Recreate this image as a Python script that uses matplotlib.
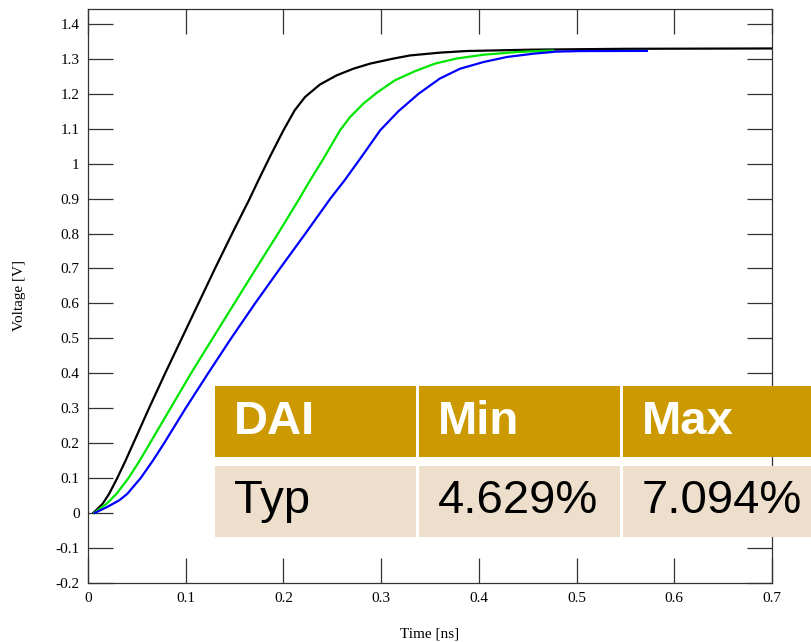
import matplotlib
matplotlib.use("Agg")
import matplotlib.pyplot as plt
from matplotlib.patches import Rectangle

# rise curves (time in ns, voltage in V)
black_t = [0.0055, 0.0150, 0.0215, 0.0300, 0.0385, 0.0465, 0.0545, 0.0625, 0.0790,
           0.0960, 0.1130, 0.1300, 0.1475, 0.1655, 0.1743, 0.1860, 0.2000, 0.2115,
           0.2221, 0.2375, 0.2545, 0.2716, 0.2886, 0.3125, 0.3296, 0.3600, 0.3876,
           0.455, 0.55, 0.70]
black_v = [0.0, 0.026, 0.054, 0.10, 0.15, 0.20, 0.25, 0.30, 0.40,
           0.50, 0.60, 0.70, 0.80, 0.90, 0.952, 1.019, 1.0955, 1.1527,
           1.191, 1.227, 1.253, 1.272, 1.2865, 1.301, 1.310, 1.318, 1.3227,
           1.3266, 1.329, 1.33]

green_t = [0.0065, 0.0190, 0.0290, 0.0415, 0.0530, 0.0635, 0.0740, 0.0845, 0.1055,
           0.1276, 0.1498, 0.1720, 0.1945, 0.2163, 0.2272, 0.2409, 0.2579, 0.2682,
           0.2818, 0.2955, 0.3140, 0.3347, 0.3550, 0.3770, 0.4046, 0.4388, 0.4626,
           0.476]
green_v = [0.0, 0.026, 0.054, 0.10, 0.15, 0.20, 0.25, 0.30, 0.40,
           0.50, 0.60, 0.70, 0.80, 0.90, 0.952, 1.014, 1.0955, 1.1335,
           1.172, 1.203, 1.2387, 1.265, 1.2865, 1.301, 1.312, 1.3198, 1.3227,
           1.324]

blue_t = [0.007, 0.019, 0.032, 0.040, 0.054, 0.0665, 0.0780, 0.0890, 0.1000,
          0.1230, 0.1465, 0.1710, 0.1965, 0.2225, 0.2480, 0.2625, 0.2800, 0.2990,
          0.3176, 0.3382, 0.360, 0.3808, 0.4046, 0.4286, 0.4558, 0.4797, 0.5036,
          0.572]
blue_v = [0.0, 0.016, 0.036, 0.054, 0.10, 0.15, 0.20, 0.25, 0.30,
          0.40, 0.50, 0.60, 0.70, 0.80, 0.90, 0.952, 1.02, 1.0955,
          1.15, 1.20, 1.2437, 1.272, 1.291, 1.3055, 1.315, 1.321, 1.3225,
          1.323]

xticks = [0, 0.1, 0.2, 0.3, 0.4, 0.5, 0.6, 0.7]
xtick_labels = ["0", "0.1", "0.2", "0.3", "0.4", "0.5", "0.6", "0.7"]
yticks = [-0.2, -0.1, 0, 0.1, 0.2, 0.3, 0.4, 0.5, 0.6, 0.7, 0.8, 0.9, 1, 1.1, 1.2, 1.3, 1.4]
ytick_labels = ["-0.2", "-0.1", "0", "0.1", "0.2", "0.3", "0.4", "0.5", "0.6", "0.7",
                "0.8", "0.9", "1", "1.1", "1.2", "1.3", "1.4"]

table_head = ["DAI", "Min", "Max"]
table_row = ["Typ", "4.629%", "7.094%"]

W, H = 811, 642
fig = plt.figure(figsize=(W / 100, H / 100), dpi=100)
fig.patch.set_facecolor("white")

# axes box in pixels: left 88, right 772, top 9, bottom 582.7
ax = fig.add_axes([88 / W, 1 - 582.7 / H, (772 - 88) / W, (582.7 - 9) / H])
ax.plot(black_t, black_v, color="black", lw=1.6)
ax.plot(green_t, green_v, color="#00e600", lw=1.6)
ax.plot(blue_t, blue_v, color="#0000ff", lw=1.6)

ax.set_xlim(0, 0.7)
ax.set_ylim(-0.2, 1.443)
serif = "Liberation Serif"
ax.set_xticks(xticks)
ax.set_xticklabels(xtick_labels, family=serif, fontsize=11)
ax.set_yticks(yticks)
ax.set_yticklabels(ytick_labels, family=serif, fontsize=11)
ax.tick_params(direction="in", length=18, width=0.9, color="#333333",
               top=True, right=True)
ax.tick_params(axis="y", pad=6)
ax.tick_params(axis="x", pad=7)
for s in ax.spines.values():
    s.set_color("#333333")
    s.set_linewidth(0.9)
ax.set_xlabel("Time [ns]", family=serif, fontsize=11, labelpad=16)
ax.set_ylabel("Voltage [V]", family=serif, fontsize=11, labelpad=21)

# table overlay (pixel layout)
cols = [(215, 416.2), (418.6, 620.3), (622.6, 815)]
rows = [(386, 457.3, "#cc9900", "white", "bold", table_head),
        (465.7, 536.7, "#eddfcc", "black", "normal", table_row)]
for top, bot, fc, tc, fw, texts in rows:
    for (x0, x1), txt in zip(cols, texts):
        fig.add_artist(Rectangle((x0 / W, 1 - bot / H), (x1 - x0) / W, (bot - top) / H,
                                 transform=fig.transFigure, facecolor=fc,
                                 edgecolor="none", zorder=5))
        fig.text((x0 + 19) / W, 1 - (top + bot) / 2 / H, txt, color=tc,
                 fontweight=fw, fontsize=34, family="Liberation Sans",
                 ha="left", va="center", zorder=6)

fig.savefig("out.png", dpi=100)
